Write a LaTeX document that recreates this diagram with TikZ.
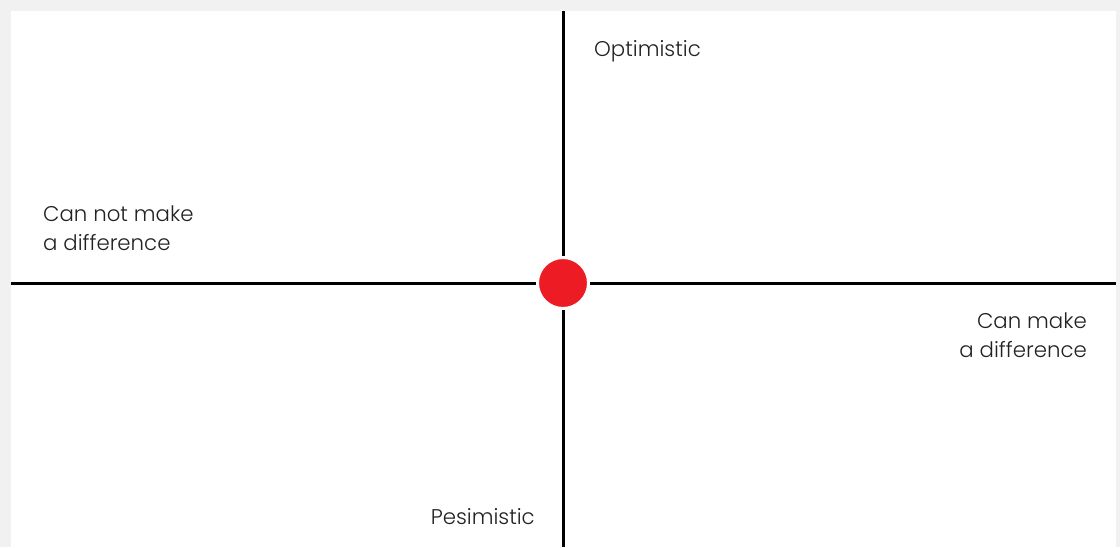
\documentclass[tikz,border=0pt]{standalone}
\usepackage{fontspec}
\setmainfont{Poppins}[UprightFont={* Light}]
\usepackage{xcolor}
\definecolor{pagegray}{HTML}{F1F1F1}
\definecolor{dotred}{HTML}{ED1C24}
\definecolor{inkgray}{HTML}{222222}
\usetikzlibrary{positioning}

\begin{document}
\begin{tikzpicture}[
  x=1pt, y=-1pt,
  axis/.style={draw=black, line width=3pt},
  label/.style={font=\fontsize{21.3}{29}\selectfont, text=inkgray, inner sep=0pt, align=left},
  centre/.style={circle, fill=dotred, draw=white, line width=3pt, minimum size=51pt, inner sep=0pt}]
\fill[pagegray] (0,0) rectangle (1120,547);
\fill[white] (11,11) rectangle (1116,547);
\useasboundingbox (0,0) rectangle (1120,547);
\coordinate (top) at (563,11);
\coordinate (bottom) at (563,547);
\coordinate (left) at (11,283);
\coordinate (right) at (1116,283);
\draw[axis] (top) -- (bottom);
\draw[axis] (left) -- (right);
\node[centre] (dot) at (563,283) {};
\node[label, anchor=west] (opt) at (594,51) {Optimistic};
\node[label, anchor=east] (pes) at (535,517) {Pesimistic};
\node[label, anchor=west] (cannot) at (43,228.5) {Can not make\\a difference};
\node[label, anchor=east, align=right] (can) at (1087,335.5) {Can make\\a difference};
\end{tikzpicture}
\end{document}
